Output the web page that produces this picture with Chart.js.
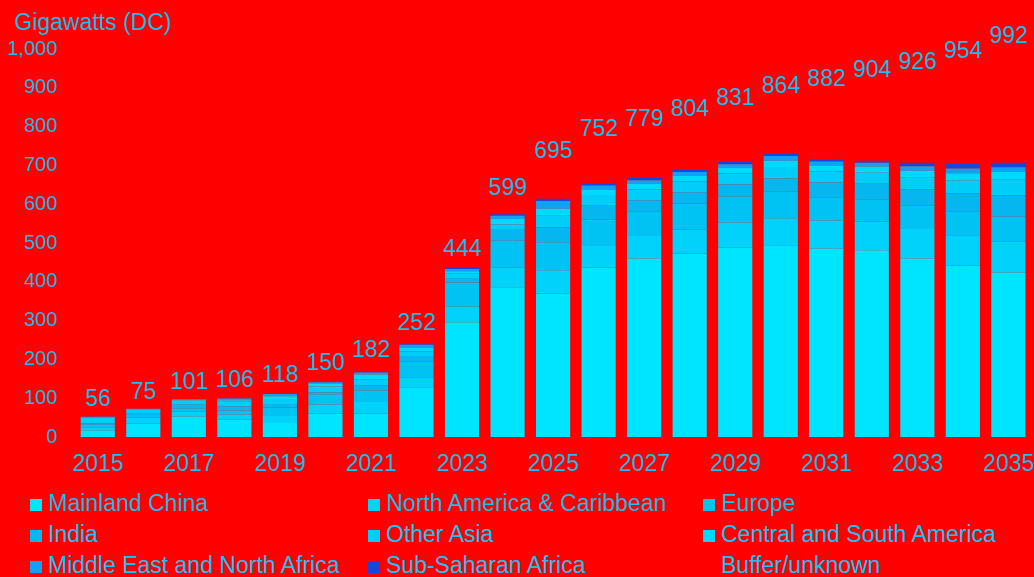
<!DOCTYPE html>
<html>
<head>
<meta charset="utf-8">
<script src="https://cdn.jsdelivr.net/npm/chart.js@4"></script>
<style>
    body{
        margin: 0;
        background: #ff0000;
        font-family: "Liberation Sans", Arial, sans-serif;
    }
    #wrap{
        position: relative;
        width: 1034px;
        height: 577px;
        background: #ff0000;
        overflow: hidden;
    }
    #chart-box{
        position: absolute;
        left: 0;
        top: 0;
        width: 1034px;
        height: 496px;
    }
    #axis-title{
        position: absolute;
        left: 14px;
        top: 9px;
        font-size: 23px;
        color: #19c3f5;
    }
    #legend{
        position: absolute;
        left: 0;
        top: 490px;
        width: 1034px;
    }
    .legend-item{
        position: absolute;
        font-size: 23px;
        color: #19c3f5;
        white-space: nowrap;
        line-height: 26px;
    }
    .legend-item span{
        display: inline-block;
        width: 12px;
        height: 12px;
        margin-right: 6px;
        vertical-align: 0px;
    }
</style>
</head>
<body>
<div id="wrap">
    <div id="chart-box"><canvas id="solar_canvas"></canvas></div>
    <div id="axis-title">Gigawatts (DC)</div>
    <div id="legend"></div>
</div>
<script>
const years = ["2015", "2016", "2017", "2018", "2019", "2020", "2021", "2022", "2023", "2024", "2025",
    "2026", "2027", "2028", "2029", "2030", "2031", "2032", "2033", "2034", "2035"];
const totals = [56, 75, 101, 106, 118, 150, 182, 252, 444, 599, 695, 752, 779, 804, 831, 864, 882, 904, 926, 954, 992];

const mainland_china = [16, 34, 53, 45, 36, 60, 60, 128, 296, 386, 370, 437, 460, 473, 488, 494, 486, 481, 460, 442, 424];
const north_america = [8, 16, 12, 13, 18, 24, 30, 26, 40, 50, 60, 55, 58, 62, 65, 70, 72, 74, 76, 78, 80];
const europe = [9, 7, 9, 10, 22, 26, 30, 40, 62, 70, 72, 68, 64, 66, 66, 68, 60, 58, 60, 62, 64];
const india = [2, 5, 9, 11, 9, 5, 13, 15, 12, 30, 38, 36, 28, 30, 32, 34, 38, 40, 42, 46, 55];
const other_asia = [14, 9, 10, 12, 13, 15, 16, 12, 12, 12, 30, 28, 28, 28, 28, 30, 28, 28, 30, 34, 40];
const central_south_america = [1, 1, 2, 4, 7, 8, 12, 9, 5, 14, 18, 14, 14, 14, 14, 16, 16, 16, 18, 18, 20];
const mena = [2, 1, 2, 4, 6, 3, 5, 8, 6, 8, 20, 10, 10, 10, 10, 12, 10, 10, 12, 12, 12];
const sub_saharan_africa = [1, 0, 1, 1, 2, 1, 2, 3, 3, 4, 6, 6, 6, 6, 6, 6, 5, 5, 9, 12, 12];
const buffer_unknown = [3, 2, 3, 6, 5, 8, 14, 11, 8, 25, 81, 98, 111, 115, 122, 134, 167, 192, 219, 250, 285];

const textColor = "#19c3f5";
const fontFamily = "'Liberation Sans', Arial, sans-serif";

document.addEventListener("DOMContentLoaded", pageLoad);

function pageLoad(){
    createSolarChart();
}

// totals written above each stack, placed with the y scale
const totalLabels = {
    id: "totalLabels",
    afterDatasetsDraw(chart){
        const ctx = chart.ctx;
        const y = chart.scales.y;
        const meta = chart.getDatasetMeta(0);
        ctx.save();
        ctx.font = "23px " + fontFamily;
        ctx.fillStyle = textColor;
        ctx.textAlign = "center";
        ctx.textBaseline = "bottom";
        for(let i = 0; i < totals.length; i++){
            ctx.fillText(totals[i], meta.data[i].x, y.getPixelForValue(totals[i]) - 4);
        }
        ctx.restore();
    }
};

function createSolarChart(){
    const series = [
        { label: "Mainland China", data: mainland_china, color: "#00e5ff" },
        { label: "North America & Caribbean", data: north_america, color: "#00d2fb" },
        { label: "Europe", data: europe, color: "#00c3f4" },
        { label: "India", data: india, color: "#06b6ee" },
        { label: "Other Asia", data: other_asia, color: "#00cdf8" },
        { label: "Central and South America", data: central_south_america, color: "#00d9ff" },
        { label: "Middle East and North Africa", data: mena, color: "#12a0f0" },
        { label: "Sub-Saharan Africa", data: sub_saharan_africa, color: "#1846dc" },
        { label: "Buffer/unknown", data: buffer_unknown, color: "#ff0000" }
    ];

    const data = {
        labels: years,
        datasets: series.map(function(s){
            return {
                label: s.label,
                data: s.data,
                backgroundColor: s.color,
                borderWidth: 0,
                barPercentage: 0.75,
                categoryPercentage: 1
            };
        })
    };

    const config = {
        type: "bar",
        data: data,
        options: {
            responsive: true,
            maintainAspectRatio: false,
            animation: false,
            layout: {
                padding: { top: 49, left: 7, right: 0, bottom: 3 }
            },
            plugins: {
                legend: { display: false },
                tooltip: { enabled: false }
            },
            scales: {
                x: {
                    stacked: true,
                    grid: { display: false, drawTicks: false },
                    border: { display: false },
                    ticks: {
                        autoSkip: false,
                        maxRotation: 0,
                        padding: 0,
                        color: textColor,
                        // tall line height pushes the year labels down without side padding
                        font: { size: 23, family: fontFamily, lineHeight: "56px" },
                        callback: function(value, index){
                            return index % 2 === 0 ? years[index] : "";
                        }
                    }
                },
                y: {
                    stacked: true,
                    min: 0,
                    max: 1000,
                    grid: { display: false, drawTicks: false },
                    border: { display: false },
                    afterFit: function(scale){
                        scale.width = 68;
                    },
                    ticks: {
                        stepSize: 100,
                        padding: 18,
                        color: textColor,
                        font: { size: 20, family: fontFamily },
                        callback: function(value){
                            return value.toLocaleString("en-US");
                        }
                    }
                }
            }
        },
        plugins: [totalLabels]
    };

    buildLegend(series);
    return new Chart(document.getElementById("solar_canvas"), config);
}

function buildLegend(series){
    const legend = document.getElementById("legend");
    const cols = [30, 368, 703];
    series.forEach(function(s, i){
        const item = document.createElement("div");
        item.className = "legend-item";
        item.style.left = cols[i % 3] + "px";
        item.style.top = (Math.floor(i / 3) * 31) + "px";
        item.innerHTML = '<span style="background:' + s.color + '"></span>' + s.label;
        legend.appendChild(item);
    });
}
</script>
</body>
</html>
